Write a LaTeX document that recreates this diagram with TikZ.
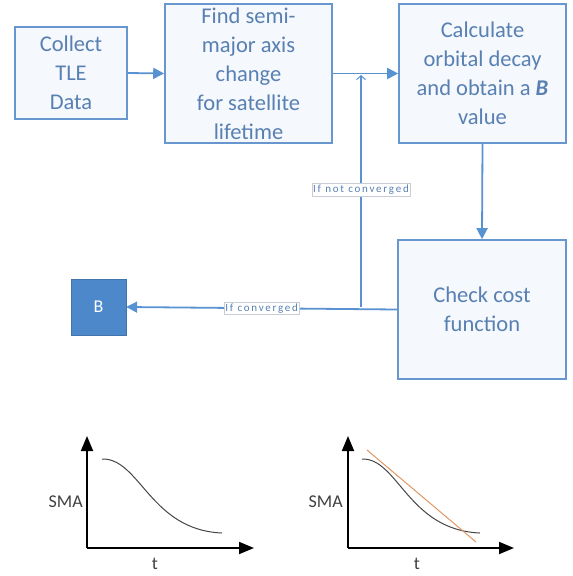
\documentclass[tikz,border=0pt]{standalone}
\usepackage{fontspec}
\setmainfont{Carlito}
\usetikzlibrary{arrows.meta}
\definecolor{boxline}{RGB}{104,150,206}
\definecolor{boxfill}{RGB}{245,248,252}
\definecolor{boxtext}{RGB}{88,128,178}
\definecolor{arrowblue}{RGB}{88,146,210}
\definecolor{bfill}{RGB}{76,136,202}
\definecolor{lblgray}{RGB}{200,205,212}
\definecolor{curvegray}{RGB}{70,70,70}
\definecolor{fitorange}{RGB}{224,150,100}
\tikzset{
  procbox/.style={draw=boxline, line width=1.6pt, fill=boxfill, text=boxtext, align=center,
    inner sep=0pt, font=\fontsize{22.5}{29}\selectfont},
  flow/.style={draw=arrowblue, line width=1.8pt, -{Triangle[length=11pt,width=11pt]}},
  feedtip/.style={draw=arrowblue, line width=1.8pt, -{Straight Barb[length=4pt,width=9pt,line width=1pt]}},
  edgelbl/.style={fill=white, draw=lblgray, line width=0.4pt, text=boxtext, inner sep=1.5pt,
    font=\addfontfeature{LetterSpace=16}\fontsize{11}{12}\selectfont},
  axisline/.style={draw=black, line width=1.8pt, -{Triangle[length=15pt,width=12pt]}},
  graphlbl/.style={text=black!75, font=\fontsize{18}{20}\selectfont, inner sep=0pt},
}
\begin{document}
\begin{tikzpicture}[x=1pt,y=-1pt]
\useasboundingbox (0,0) rectangle (573,576);
% boxes
\node[procbox, minimum width=112pt, minimum height=92pt] (collect) at (71,73) {Collect\\TLE\\Data};
\node[procbox, minimum width=167pt, minimum height=139pt] (find) at (248.5,73.5) {Find semi-\\major axis\\change\\for satellite\\lifetime};
\node[procbox, minimum width=167pt, minimum height=139pt] (calc) at (482.5,73.5) {Calculate\\orbital decay\\and obtain a \textbf{\textit{B}}\\value};
\node[procbox, minimum width=168pt, minimum height=139pt] (check) at (482,309.5) {Check cost\\function};
\node[fill=bfill, draw=bfill!85!black, line width=0.4pt, minimum width=55pt, minimum height=56pt,
  text=white, font=\fontsize{18}{20}\selectfont] (B) at (98.5,307) {B};
% connectors
\draw[flow] (collect.east) -- (find.west);
\draw[flow] (find.east) -- (calc.west);
\draw[flow] (calc.south) -- (check.north);
\coordinate (junc) at (361,307);
\coordinate (merge) at (361,75);
\draw[flow] (check.west) -- node[edgelbl, pos=0.5] (convlbl) {If converged} (B.east);
\draw[feedtip] (junc) -- node[edgelbl, pos=0.505] (nconvlbl) {If not converged} (merge);
% graph 1
\coordinate (o1) at (87,548);
\coordinate (y1) at (87,436);
\coordinate (x1) at (254,548);
\draw[axisline] (o1) -- (y1);
\draw[axisline] (o1) -- (x1);
\draw[curvegray, line width=1pt] (102,459) .. controls (140,458) and (150,530) .. (222,533);
\node[graphlbl, anchor=east] (sma1) at (83,502) {SMA};
\node[graphlbl] (t1) at (155,564) {t};
% graph 2
\coordinate (o2) at (348,548);
\coordinate (y2) at (348,436);
\coordinate (x2) at (514,548);
\draw[axisline] (o2) -- (y2);
\draw[axisline] (o2) -- (x2);
\draw[curvegray, line width=1pt] (362,459) .. controls (398,458) and (408,530) .. (480,533);
\draw[fitorange, line width=1pt] (367,450) -- (476,542);
\node[graphlbl, anchor=east] (sma2) at (343,502) {SMA};
\node[graphlbl] (t2) at (417,564) {t};
\end{tikzpicture}
\end{document}
